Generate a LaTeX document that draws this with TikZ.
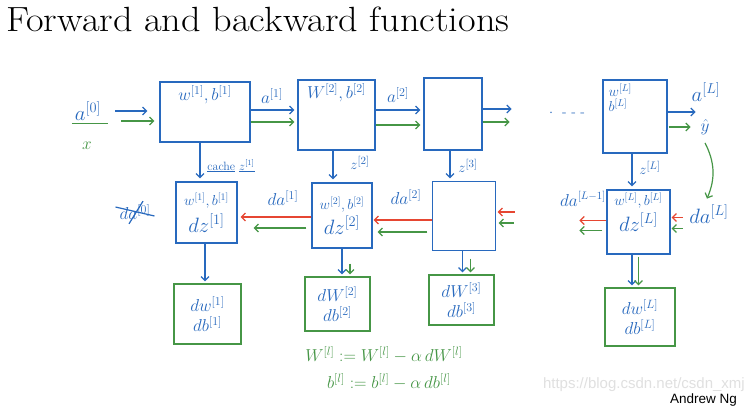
\documentclass[tikz,border=0pt]{standalone}
\usepackage{fontspec}
\newfontfamily\ngfont{Liberation Sans}
\usetikzlibrary{arrows.meta,positioning}
\definecolor{penblue}{RGB}{40,105,190}
\definecolor{pengreen}{RGB}{70,150,70}
\definecolor{penred}{RGB}{230,70,50}
\tikzset{
  layer box/.style 2 args={
    draw=penblue,
    line width=1.2pt,
    minimum width=#1,
    minimum height=#2,
    inner sep=0pt,
    text=penblue,
    align=center,
    font=\fontsize{14}{16}\selectfont,
  },
  grad box/.style 2 args={
    draw=pengreen,
    line width=1.2pt,
    minimum width=#1,
    minimum height=#2,
    inner sep=0pt,
    text=penblue,
    align=center,
    font=\fontsize{18}{20}\selectfont,
  },
  pen label/.style={
    text=penblue,
    inner sep=0pt,
    font=\fontsize{18}{20}\selectfont,
  },
  box text/.style={
    text=penblue,
    inner sep=0pt,
    font=\fontsize{17}{17}\selectfont,
  },
  fwd blue/.style={
    draw=penblue,
    line width=1.2pt,
    -{Straight Barb[length=4pt,width=8pt]},
  },
  fwd green/.style={fwd blue, draw=pengreen},
  bwd red/.style={fwd blue, draw=penred},
}

\begin{document}
\begin{tikzpicture}[x=1pt, y=-1pt]
    \useasboundingbox[fill=white] (0,0) rectangle (755,410);
    \node [anchor=base west, inner sep=0pt, xscale=1.095, font=\fontsize{35}{40}\selectfont] (title) at (6,31) {Forward and backward functions};

    % forward layers
    \node [layer box={90pt}{60pt}] (f1) at (205,112) {};
    \node [layer box={77pt}{70pt}] (f2) at (336.5,115) {};
    \node [layer box={58pt}{72pt}] (f3) at (453,114) {};
    \node [layer box={64pt}{73pt}] (f4) at (635,116.5) {};

    \node [box text, anchor=north] at ([yshift=-4pt]f1.north) {$w^{[1]},b^{[1]}$};
    \node [box text, anchor=north] at ([yshift=-4pt]f2.north) {$W^{[2]},b^{[2]}$};
    \node [box text, anchor=north west, align=left, font=\fontsize{14}{15}\selectfont] at ([xshift=6pt,yshift=-4pt]f4.north west) {$w^{[L]}$\\$b^{[L]}$};

    \node [pen label, font=\fontsize{20}{22}\selectfont] (a0) at (88,111) {$a^{[0]}$};
    \node [pen label, text=pengreen] (xin) at (87,146) {$x$};
    \draw [pengreen, line width=1.2pt] ([xshift=-3pt,yshift=-3pt]a0.south west) -- ([xshift=7pt,yshift=-3pt]a0.south east);

    \draw [fwd blue] ([xshift=14pt]a0.east) -- ([xshift=-12pt]a0.east -| f1.west);
    \draw [fwd green] ([xshift=20pt,yshift=-10pt]a0.east) -- ([xshift=-5pt,yshift=-10pt]a0.east -| f1.west);

    \draw [fwd blue] ([yshift=2pt]f1.east) -- ([xshift=-3pt,yshift=2pt]f1.east -| f2.west);
    \draw [fwd green] ([yshift=-10pt]f1.east) -- ([xshift=-3pt,yshift=-10pt]f1.east -| f2.west);
    \draw [fwd blue] ([yshift=5pt]f2.east) -- ([xshift=-3pt,yshift=5pt]f2.east -| f3.west);
    \draw [fwd green] ([yshift=-10pt]f2.east) -- ([xshift=-3pt,yshift=-10pt]f2.east -| f3.west);
    \draw [fwd blue] ([yshift=5pt]f3.east) -- ++(29,0);
    \draw [fwd green] ([yshift=-8pt]f3.east) -- ++(27,0);
    \draw [fwd blue] ([yshift=4.5pt]f4.east) -- ++(28,0);
    \draw [fwd green] ([xshift=1pt,yshift=-10.5pt]f4.east) -- ++(22,0);

    \node [pen label] (a1) at (272,96) {$a^{[1]}$};
    \node [pen label] (a2) at (398,95) {$a^{[2]}$};
    \node [pen label, font=\fontsize{14}{16}\selectfont] (dots) at (567,113) {$\cdot$\ \ -\ -\ -};
    \node [pen label, font=\fontsize{20}{22}\selectfont] (aL) at (706,92) {$a^{[L]}$};
    \node [pen label] (yhat) at (705,127) {$\hat{y}$};

    % backward layers
    \node [layer box={61pt}{61pt}] (b1) at (206.5,212.5) {$w^{[1]},b^{[1]}$\\[5pt]{\fontsize{20}{22}\selectfont$dz^{[1]}$}};
    \node [layer box={60pt}{65pt}] (b2) at (342,215.5) {$w^{[2]},b^{[2]}$\\[3pt]{\fontsize{20}{22}\selectfont$dz^{[2]}$}};
    \node [layer box={62pt}{68pt}, draw=none] (b3) at (464,216) {};
    \draw [penblue, line width=1.2pt] (b3.south west) rectangle (b3.north east);
    \node [layer box={63pt}{64pt}] (b4) at (638.5,222) {$w^{[L]},b^{[L]}$\\[4pt]{\fontsize{20}{22}\selectfont$dz^{[L]}$}\\[4pt]};

    \draw [fwd blue, shorten >=3pt] ([xshift=-5pt]f1.south) -- ([xshift=-5pt]f1.south |- b1.north);
    \draw [fwd blue, shorten >=3pt] ([xshift=-3.5pt]f2.south) -- ([xshift=-3.5pt]f2.south |- b2.north);
    \draw [fwd blue, shorten >=3pt] ([xshift=-3pt]f3.south) -- ([xshift=-3pt]f3.south |- b3.north);
    \draw [fwd blue, shorten >=3pt] ([xshift=-3pt]f4.south) -- ([xshift=-3pt]f4.south |- b4.north);

    \node [pen label, font=\fontsize{12}{14}\selectfont] (cache) at (231,166) {\underline{cache} \underline{$z^{[1]}$}};
    \node [pen label, font=\fontsize{15}{17}\selectfont] (z2) at (360,163) {$z^{[2]}$};
    \node [pen label, font=\fontsize{15}{17}\selectfont] (z3) at (468,166) {$z^{[3]}$};
    \node [pen label, font=\fontsize{15}{17}\selectfont] (zL) at (650,168) {$z^{[L]}$};

    \node [pen label] (da0) at (135,212) {$da^{[0]}$};
    \draw [penblue, line width=1.2pt] ([xshift=-4pt,yshift=5pt]da0.west) -- ([xshift=4pt,yshift=-4pt]da0.east);
    \draw [penblue, line width=1.2pt] ([xshift=-6pt,yshift=-4pt]da0.south) -- ([xshift=8pt,yshift=3pt]da0.north);
    \node [pen label] (da1) at (283,198) {$da^{[1]}$};
    \node [pen label] (da2) at (406,197) {$da^{[2]}$};
    \node [pen label, font=\fontsize{16}{18}\selectfont] (daLm1) at (583,199) {$da^{[L-1]}$};
    \node [pen label, font=\fontsize{21}{23}\selectfont] (daL) at (709,214) {$da^{[L]}$};

    \draw [fwd green] ([yshift=-8pt]yhat.south) to[bend left=25] ([xshift=-2pt,yshift=6pt]daL.north);

    \draw [bwd red] ([yshift=-1.5pt]b2.west) -- ([xshift=3pt,yshift=-1.5pt]b2.west -| b1.east);
    \draw [fwd green] ([xshift=-5pt,yshift=-12.5pt]b2.west) -- ([xshift=16pt,yshift=-12.5pt]b2.west -| b1.east);
    \draw [bwd red] ([yshift=-4pt]b3.west) -- ([xshift=1pt,yshift=-4pt]b3.west -| b2.east);
    \draw [fwd green] ([xshift=-5pt,yshift=-16pt]b3.west) -- ([xshift=5pt,yshift=-16pt]b3.west -| b2.east);
    \draw [bwd red] ([xshift=19pt,yshift=4pt]b3.east) -- ([xshift=2pt,yshift=4pt]b3.east);
    \draw [fwd green] ([xshift=18pt,yshift=-7pt]b3.east) -- ([xshift=3pt,yshift=-7pt]b3.east);
    \draw [bwd red] ([xshift=12pt,yshift=4.5pt]b4.east) -- ([xshift=1pt,yshift=4.5pt]b4.east);
    \draw [fwd green] ([xshift=12pt,yshift=-6.5pt]b4.east) -- ([xshift=1pt,yshift=-6.5pt]b4.east);
    \draw [bwd red] ([yshift=1.5pt]b4.west) -- ++(-27,0);
    \draw [fwd green] ([xshift=-4pt,yshift=-8.5pt]b4.west) -- ++(-23,0);

    % gradients
    \node [grad box={67pt}{60pt}] (g1) at (207.5,314) {$dw^{[1]}$\\$db^{[1]}$};
    \node [grad box={65pt}{54pt}] (g2) at (337.5,304) {$dW^{[2]}$\\$db^{[2]}$};
    \node [grad box={65pt}{50pt}] (g3) at (461.5,300) {$dW^{[3]}$\\$db^{[3]}$};
    \node [grad box={70pt}{58pt}] (g4) at (640,317) {$dw^{[L]}$\\$db^{[L]}$};

    \draw [fwd blue, shorten >=2pt] ([xshift=-1.5pt]b1.south) -- ([xshift=-1.5pt]b1.south |- g1.north);
    \draw [fwd blue, shorten >=2pt] (b2.south) -- (b2.south |- g2.north);
    \draw [fwd green, shorten >=2pt] ([xshift=8pt,yshift=-15pt]b2.south) -- ([xshift=8pt]b2.south |- g2.north);
    \draw [fwd blue, shorten >=2pt] ([xshift=-1.5pt]b3.south) -- ([xshift=-1.5pt]b3.south |- g3.north);
    \draw [fwd green, shorten >=2pt] ([xshift=6.5pt,yshift=-8pt]b3.south) -- ([xshift=6.5pt]b3.south |- g3.north);
    \draw [fwd blue, shorten >=2pt] ([xshift=-6.5pt]b4.south) -- ([xshift=-6.5pt]b4.south |- g4.north);
    \draw [fwd green, shorten >=2pt] ([yshift=-2pt]b4.south) -- (b4.south |- g4.north);

    \node [pen label, text=pengreen, font=\fontsize{17}{19}\selectfont] (eqW) at (384,355) {$W^{[l]} := W^{[l]} - \alpha\, dW^{[l]}$};
    \node [pen label, text=pengreen, font=\fontsize{17}{19}\selectfont] (eqb) at (389,382) {$b^{[l]} := b^{[l]} - \alpha\, db^{[l]}$};

    \node [anchor=east, inner sep=0pt, text=black!12, font=\ngfont\fontsize{15}{17}\selectfont] (mark) at (745,385) {https://blog.csdn.net/csdn\_xmj};
    \node [anchor=east, inner sep=0pt, font=\ngfont\fontsize{13.5}{15}\selectfont] (ng) at (737,400) {Andrew Ng};
\end{tikzpicture}
\end{document}
